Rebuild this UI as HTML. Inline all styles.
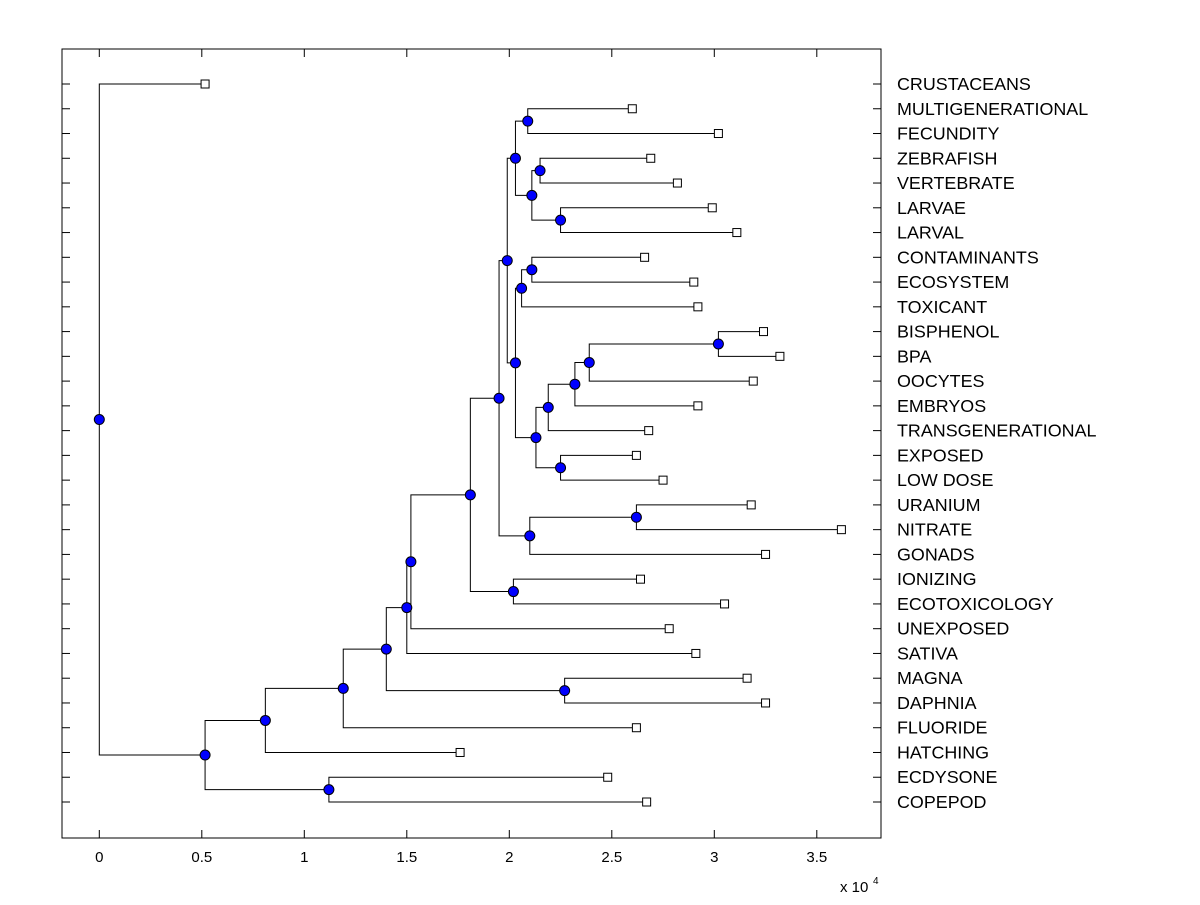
<!DOCTYPE html>
<html><head><meta charset="utf-8"><style>
html,body{margin:0;padding:0;background:#fff;}
svg text{font-family:"Liberation Sans",Arial,sans-serif;}
</style></head><body>
<svg id="chart" width="1200" height="900" xmlns="http://www.w3.org/2000/svg">
<rect x="0" y="0" width="1200" height="900" fill="#fff"/>
<g id="g"></g>
</svg>
<script>
const leafLabels = ["CRUSTACEANS","MULTIGENERATIONAL","FECUNDITY","ZEBRAFISH","VERTEBRATE","LARVAE","LARVAL","CONTAMINANTS","ECOSYSTEM","TOXICANT","BISPHENOL","BPA","OOCYTES","EMBRYOS","TRANSGENERATIONAL","EXPOSED","LOW DOSE","URANIUM","NITRATE","GONADS","IONIZING","ECOTOXICOLOGY","UNEXPOSED","SATIVA","MAGNA","DAPHNIA","FLUORIDE","HATCHING","ECDYSONE","COPEPOD"];
const leafValues = [0.516,2.60,3.02,2.69,2.82,2.99,3.11,2.66,2.90,2.92,3.24,3.32,3.19,2.92,2.68,2.62,2.75,3.18,3.62,3.25,2.64,3.05,2.78,2.91,3.16,3.25,2.62,1.76,2.48,2.67];
const nodeNames = ["R","T","U","S","P","V","X","CC","BB","AA","Y","Z","W","Q","L","N","M","J","K","I","H","F","G","E","D","B","C","A","ROOT"];
const nodeValues = [2.09,2.15,2.25,2.11,2.03,2.11,2.06,3.02,2.39,2.32,2.19,2.25,2.13,2.03,1.99,2.62,2.10,1.95,2.02,1.81,1.52,1.50,2.27,1.40,1.19,0.81,1.12,0.516,0];
const nodeChildren = [[1,2],[3,4],[5,6],["T","U"],["R","S"],[7,8],["V",9],[10,11],["CC",12],["BB",13],["AA",14],[15,16],["Y","Z"],["X","W"],["P","Q"],[17,18],["N",19],["L","M"],[20,21],["J","K"],["I",22],["H",23],[24,25],["F","G"],["E",26],["D",27],[28,29],["B","C"],[0,"A"]];
const xTicks = [0,0.5,1,1.5,2,2.5,3,3.5];

const L=62,T=49,Rr=881,B=838;
const x0=99.3, pxPer=205;
const X=v=>x0+v*pxPer;
const rowY=i=>84+i*(802-84)/29;
const NS="http://www.w3.org/2000/svg";
const g=document.getElementById('g');
function mk(tag,attrs,parent){const e=document.createElementNS(NS,tag);for(const k in attrs)e.setAttribute(k,attrs[k]);(parent||g).appendChild(e);return e;}

const box=mk('rect',{x:L,y:T,width:Rr-L,height:B-T,fill:'none',stroke:'#000','stroke-width':1});



leafLabels.forEach((lab,i)=>{
  const y=rowY(i);
  const t1=mk('line',{x1:L,x2:L+8,y1:y,y2:y,stroke:'#000'});
  
  
  const t2=mk('line',{x1:Rr-8,x2:Rr,y1:y,y2:y,stroke:'#000'});
  
  
  const tx=mk('text',{x:897,y:y+6,'font-size':17.9,fill:'#000'});
  tx.textContent=lab;
  
  
});
xTicks.forEach(v=>{
  const x=X(v);
  const a=mk('line',{x1:x,x2:x,y1:B,y2:B-8,stroke:'#000'});
  
  
  const b=mk('line',{x1:x,x2:x,y1:T,y2:T+8,stroke:'#000'});
  
  
  const tx=mk('text',{x:x,y:862,'font-size':15,'text-anchor':'middle',fill:'#000'});
  tx.textContent=String(v);
  
  
});
const ex=mk('text',{x:840,y:892,'font-size':15,fill:'#000'});
ex.textContent='x 10';


const ex2=mk('text',{x:873,y:884,'font-size':10,fill:'#000'});
ex2.textContent='4';



const pos={};
leafValues.forEach((v,i)=>{pos[i]={x:X(v),y:rowY(i)};});
nodeNames.forEach((n,k)=>{
  const [a,b]=nodeChildren[k];
  const pa=pos[a],pb=pos[b];
  pos[n]={x:X(nodeValues[k]),y:(pa.y+pb.y)/2};
});
const lines=mk('g',{});
const marks=mk('g',{});
nodeNames.forEach((n,k)=>{
  const p=pos[n];
  const [a,b]=nodeChildren[k];
  const pa=pos[a],pb=pos[b];
  const pl=mk('polyline',{points:`${pa.x},${pa.y} ${p.x},${pa.y} ${p.x},${pb.y} ${pb.x},${pb.y}`,fill:'none',stroke:'#000','stroke-width':1},lines);
  
  
});
leafValues.forEach((v,i)=>{
  const p=pos[i];
  const r=mk('rect',{x:p.x-4,y:p.y-4,width:8,height:8,fill:'#fff',stroke:'#000','stroke-width':1},marks);
  
  
});
nodeNames.forEach(n=>{
  const p=pos[n];
  const c=mk('circle',{cx:p.x,cy:p.y,r:5,fill:'#0000ff',stroke:'#000','stroke-width':1},marks);
  
  
});
</script>
</body></html>
